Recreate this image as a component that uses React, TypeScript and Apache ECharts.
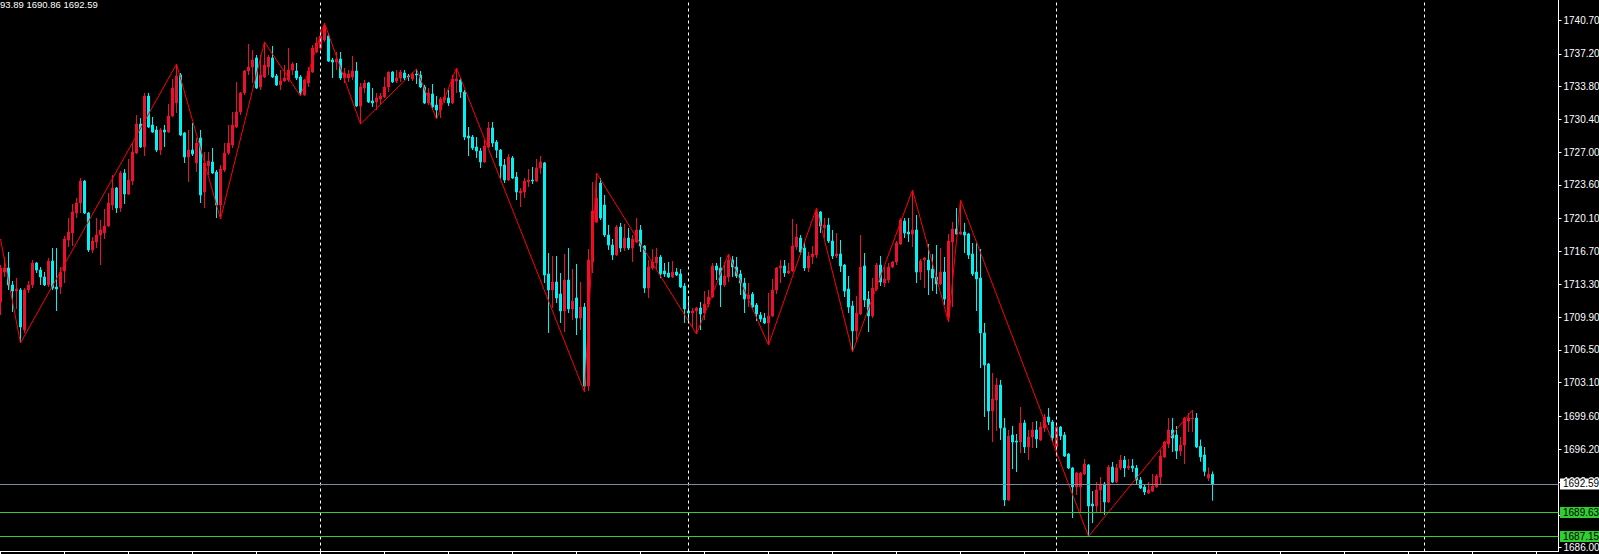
import React, { useEffect, useRef } from "react";
import * as echarts from "echarts";

// [open, close, low, high] per M15 bar
const candles: number[][] = [
  [1711.46, 1714.99, 1710.11, 1715.30], [1714.57, 1714.99, 1714.06, 1716.13], [1714.99, 1713.23, 1712.71, 1716.65], [1713.23, 1712.60, 1710.43, 1713.64],
  [1712.60, 1712.81, 1710.74, 1713.95], [1712.71, 1708.87, 1707.21, 1712.91], [1708.56, 1712.71, 1708.25, 1712.91], [1712.71, 1713.23, 1712.40, 1713.64],
  [1713.23, 1715.51, 1712.91, 1715.82], [1715.51, 1714.78, 1714.47, 1715.61], [1714.78, 1714.06, 1713.23, 1715.09], [1714.06, 1713.23, 1713.12, 1714.57],
  [1713.23, 1715.71, 1713.02, 1716.03], [1715.71, 1712.91, 1712.71, 1717.06], [1713.02, 1712.81, 1710.53, 1717.06], [1713.02, 1714.57, 1712.29, 1715.09],
  [1714.68, 1718.00, 1713.43, 1718.31], [1717.89, 1718.72, 1717.17, 1720.17], [1718.62, 1720.80, 1717.27, 1721.63], [1720.69, 1721.73, 1720.17, 1722.25],
  [1721.73, 1724.01, 1720.69, 1724.32], [1724.01, 1720.69, 1720.59, 1724.11], [1720.69, 1716.86, 1716.65, 1720.80], [1716.86, 1717.79, 1716.54, 1718.20],
  [1717.68, 1718.41, 1717.06, 1720.17], [1718.41, 1718.93, 1715.30, 1719.97], [1718.62, 1719.34, 1718.00, 1721.11], [1719.34, 1721.73, 1719.24, 1722.77],
  [1721.52, 1723.28, 1721.00, 1724.63], [1723.28, 1721.21, 1720.69, 1723.39], [1721.21, 1724.84, 1720.80, 1725.05], [1724.84, 1722.66, 1721.63, 1725.25],
  [1722.66, 1724.11, 1722.56, 1726.29], [1724.01, 1727.02, 1723.60, 1727.95], [1726.91, 1729.92, 1726.81, 1730.85], [1729.92, 1727.54, 1727.43, 1730.54],
  [1727.54, 1732.82, 1726.60, 1733.14], [1732.82, 1729.61, 1729.51, 1733.14], [1729.82, 1729.09, 1728.99, 1730.65], [1729.30, 1727.22, 1727.02, 1729.71],
  [1727.22, 1729.30, 1726.71, 1729.51], [1729.30, 1729.09, 1727.54, 1729.82], [1729.09, 1730.75, 1728.99, 1731.99], [1730.75, 1733.65, 1730.65, 1734.59],
  [1732.10, 1734.90, 1731.06, 1736.14], [1735.00, 1728.78, 1728.68, 1735.21], [1728.99, 1726.50, 1725.88, 1729.09], [1726.50, 1727.22, 1723.91, 1729.30],
  [1727.22, 1726.81, 1726.60, 1730.03], [1725.88, 1727.95, 1724.94, 1728.47], [1728.47, 1722.56, 1721.73, 1729.30], [1722.87, 1725.88, 1721.21, 1727.02],
  [1725.57, 1726.08, 1724.63, 1727.02], [1725.98, 1724.84, 1724.74, 1727.43], [1724.94, 1721.52, 1720.17, 1725.15], [1721.52, 1725.25, 1720.07, 1725.67],
  [1725.15, 1726.91, 1724.94, 1727.95], [1726.91, 1727.95, 1726.71, 1729.82], [1727.74, 1729.82, 1727.43, 1731.17], [1729.61, 1731.17, 1729.51, 1734.28],
  [1731.17, 1733.14, 1730.85, 1733.24], [1733.14, 1735.42, 1732.93, 1735.52], [1735.42, 1735.83, 1735.00, 1738.22], [1735.83, 1736.56, 1734.17, 1737.59],
  [1736.77, 1733.65, 1733.55, 1737.08], [1733.76, 1735.00, 1733.45, 1737.08], [1734.80, 1736.04, 1734.69, 1738.43], [1735.83, 1736.87, 1735.00, 1737.08],
  [1736.77, 1734.80, 1734.69, 1738.01], [1734.90, 1733.97, 1733.86, 1735.11], [1733.97, 1734.38, 1733.45, 1735.52], [1734.38, 1734.69, 1734.28, 1736.04],
  [1734.48, 1735.52, 1734.28, 1737.80], [1735.52, 1736.14, 1735.00, 1736.35], [1735.42, 1734.69, 1734.48, 1736.25], [1734.80, 1733.14, 1732.82, 1735.00],
  [1732.93, 1734.48, 1732.85, 1734.59], [1734.17, 1735.42, 1733.76, 1735.83], [1735.31, 1737.80, 1735.21, 1738.11], [1737.39, 1738.32, 1737.28, 1738.94],
  [1737.80, 1739.05, 1737.59, 1739.67], [1738.63, 1740.08, 1738.43, 1740.39], [1739.05, 1736.45, 1736.35, 1739.36], [1736.56, 1736.35, 1734.69, 1736.77],
  [1736.35, 1736.66, 1735.52, 1737.39], [1736.66, 1734.69, 1734.48, 1737.39], [1734.69, 1735.21, 1734.17, 1735.73], [1734.69, 1735.11, 1734.28, 1735.52],
  [1734.80, 1735.42, 1734.48, 1736.97], [1735.42, 1731.79, 1731.69, 1736.35], [1731.79, 1733.76, 1729.92, 1734.17], [1733.65, 1734.17, 1733.14, 1734.48],
  [1734.17, 1732.20, 1732.10, 1734.28], [1732.31, 1732.10, 1731.69, 1733.65], [1732.20, 1732.62, 1731.37, 1733.14], [1732.51, 1732.82, 1731.89, 1733.14],
  [1732.72, 1733.76, 1732.62, 1734.80], [1733.76, 1735.31, 1733.24, 1735.35], [1735.31, 1734.28, 1734.17, 1735.40], [1734.38, 1734.69, 1734.17, 1735.52],
  [1734.69, 1735.31, 1734.28, 1735.52], [1735.21, 1734.69, 1734.48, 1735.52], [1734.90, 1734.80, 1734.38, 1735.11], [1734.59, 1735.11, 1734.38, 1735.31],
  [1735.11, 1735.00, 1734.07, 1735.62], [1735.00, 1733.76, 1733.65, 1735.42], [1733.76, 1732.10, 1731.99, 1733.97], [1732.10, 1733.14, 1731.89, 1733.65],
  [1733.03, 1731.69, 1731.37, 1734.07], [1731.89, 1731.37, 1730.44, 1732.82], [1731.37, 1732.51, 1730.54, 1732.72], [1732.41, 1732.72, 1732.10, 1733.65],
  [1732.62, 1732.10, 1731.79, 1733.45], [1732.10, 1734.59, 1731.99, 1735.00], [1734.38, 1734.59, 1733.14, 1735.73], [1734.48, 1733.24, 1732.62, 1734.69],
  [1733.24, 1728.57, 1728.26, 1733.45], [1728.68, 1728.47, 1726.60, 1729.61], [1728.57, 1727.43, 1727.22, 1728.78], [1727.54, 1727.12, 1726.40, 1728.57],
  [1727.12, 1725.98, 1725.36, 1727.43], [1725.98, 1727.64, 1725.88, 1728.26], [1727.54, 1729.51, 1727.43, 1730.13], [1729.51, 1727.95, 1727.54, 1730.13],
  [1728.05, 1727.22, 1726.40, 1728.26], [1727.22, 1725.57, 1724.22, 1727.33], [1725.67, 1724.11, 1723.80, 1726.29], [1724.11, 1726.50, 1724.01, 1726.81],
  [1726.40, 1724.32, 1724.22, 1726.60], [1724.42, 1722.87, 1722.04, 1724.94], [1722.77, 1722.97, 1721.31, 1723.28], [1722.87, 1724.01, 1722.25, 1724.32],
  [1723.91, 1724.11, 1723.39, 1725.25], [1724.11, 1724.01, 1723.70, 1725.46], [1724.01, 1725.36, 1723.91, 1726.29], [1725.36, 1725.98, 1724.74, 1726.60],
  [1725.88, 1714.26, 1713.43, 1725.98], [1714.37, 1712.71, 1708.25, 1716.54], [1712.71, 1713.54, 1710.84, 1716.23], [1713.54, 1711.88, 1711.36, 1716.23],
  [1712.29, 1710.53, 1709.29, 1714.47], [1710.53, 1713.74, 1708.35, 1716.44], [1713.74, 1710.74, 1710.32, 1717.06], [1710.74, 1711.57, 1709.60, 1714.88],
  [1711.88, 1709.80, 1708.04, 1715.40], [1709.80, 1710.94, 1708.56, 1713.54], [1710.94, 1702.75, 1702.13, 1711.36], [1702.75, 1715.82, 1702.23, 1716.96],
  [1715.61, 1720.90, 1714.47, 1723.91], [1719.76, 1722.25, 1719.66, 1724.84], [1723.80, 1720.17, 1719.97, 1724.32], [1721.52, 1718.41, 1718.20, 1722.56],
  [1718.41, 1717.37, 1716.86, 1719.45], [1717.37, 1716.34, 1715.82, 1718.00], [1716.34, 1719.24, 1716.23, 1719.45], [1719.24, 1717.06, 1716.65, 1719.66],
  [1717.06, 1718.10, 1716.75, 1719.55], [1718.10, 1717.06, 1716.86, 1719.14], [1717.06, 1718.00, 1715.61, 1718.41], [1717.68, 1718.93, 1717.58, 1720.17],
  [1718.93, 1717.27, 1716.65, 1719.45], [1717.27, 1712.91, 1712.40, 1717.37], [1712.91, 1715.09, 1711.88, 1715.82], [1714.99, 1715.61, 1714.78, 1716.96],
  [1715.51, 1716.13, 1714.88, 1717.06], [1716.13, 1714.37, 1713.95, 1716.34], [1714.68, 1714.37, 1714.06, 1715.51], [1714.47, 1714.06, 1713.95, 1715.61],
  [1714.06, 1714.57, 1713.95, 1715.71], [1714.57, 1714.26, 1714.16, 1714.99], [1714.37, 1713.02, 1712.91, 1714.88], [1713.12, 1710.74, 1709.29, 1713.43],
  [1710.53, 1710.32, 1709.29, 1712.08], [1710.32, 1710.53, 1708.77, 1710.84], [1710.53, 1710.84, 1708.14, 1710.94], [1710.84, 1710.22, 1708.56, 1711.46],
  [1710.32, 1711.25, 1709.60, 1712.60], [1711.25, 1711.98, 1710.94, 1712.71], [1711.98, 1715.20, 1711.88, 1715.51], [1715.20, 1714.78, 1713.74, 1715.51],
  [1714.99, 1713.23, 1710.94, 1716.13], [1713.23, 1714.16, 1713.02, 1715.61], [1714.06, 1715.82, 1713.54, 1716.44], [1715.82, 1715.09, 1714.06, 1716.23],
  [1715.09, 1714.16, 1713.95, 1716.13], [1714.37, 1713.43, 1712.19, 1714.78], [1713.43, 1711.77, 1710.32, 1713.95], [1711.77, 1712.19, 1710.94, 1713.43],
  [1712.29, 1710.94, 1710.84, 1712.50], [1711.15, 1710.22, 1709.49, 1711.36], [1710.11, 1709.70, 1709.39, 1710.43], [1709.80, 1709.29, 1709.18, 1710.32],
  [1709.29, 1710.01, 1707.00, 1712.40], [1710.01, 1712.71, 1709.91, 1713.85], [1712.71, 1714.99, 1712.29, 1715.09], [1714.99, 1715.20, 1713.43, 1715.82],
  [1715.20, 1714.47, 1714.06, 1715.82], [1714.47, 1714.68, 1714.37, 1715.51], [1714.68, 1717.27, 1714.57, 1720.07], [1717.17, 1718.20, 1716.86, 1719.55],
  [1718.10, 1716.65, 1716.34, 1718.41], [1717.06, 1714.99, 1714.68, 1717.68], [1714.99, 1716.23, 1714.57, 1716.65], [1716.13, 1716.44, 1715.40, 1717.27],
  [1716.34, 1720.80, 1716.03, 1721.21], [1720.80, 1719.34, 1718.62, 1720.90], [1719.14, 1719.45, 1718.10, 1720.17], [1719.45, 1717.79, 1717.58, 1720.17],
  [1717.79, 1716.23, 1715.92, 1718.93], [1716.23, 1716.44, 1716.03, 1718.62], [1716.44, 1715.20, 1714.57, 1717.89], [1715.30, 1712.60, 1711.98, 1715.40],
  [1712.81, 1710.94, 1710.32, 1714.16], [1711.05, 1708.46, 1706.28, 1711.57], [1708.46, 1710.32, 1707.31, 1712.08], [1710.22, 1715.09, 1710.11, 1718.41],
  [1715.20, 1711.67, 1710.94, 1716.54], [1711.77, 1710.01, 1708.35, 1712.60], [1710.01, 1712.91, 1709.80, 1713.95], [1712.81, 1715.30, 1712.60, 1715.51],
  [1715.30, 1713.54, 1713.12, 1716.23], [1713.43, 1713.85, 1713.02, 1715.09], [1713.74, 1715.09, 1713.43, 1715.51], [1715.09, 1715.61, 1714.99, 1715.71],
  [1715.61, 1717.58, 1715.30, 1717.79], [1717.48, 1719.97, 1717.37, 1720.17], [1719.86, 1718.62, 1718.10, 1720.17], [1718.72, 1718.51, 1717.68, 1720.17],
  [1718.51, 1718.93, 1717.17, 1723.08], [1718.93, 1714.57, 1713.43, 1720.48], [1714.57, 1715.71, 1713.74, 1715.92], [1715.82, 1716.03, 1712.91, 1716.13],
  [1715.82, 1714.78, 1712.19, 1717.48], [1714.88, 1713.95, 1712.60, 1716.44], [1714.06, 1713.33, 1712.29, 1717.37], [1713.33, 1714.57, 1713.23, 1717.06],
  [1714.57, 1711.77, 1711.15, 1716.13], [1709.91, 1717.79, 1709.39, 1718.51], [1717.68, 1719.03, 1710.94, 1719.76], [1719.03, 1718.51, 1718.41, 1721.21],
  [1718.51, 1718.72, 1718.41, 1722.04], [1718.72, 1718.41, 1716.54, 1719.66], [1718.51, 1716.34, 1715.92, 1718.62], [1716.44, 1714.37, 1714.16, 1717.58],
  [1714.57, 1713.85, 1710.53, 1717.58], [1713.95, 1708.25, 1704.62, 1716.96], [1708.25, 1704.93, 1699.54, 1709.29], [1705.03, 1700.16, 1698.19, 1705.14],
  [1700.16, 1701.40, 1696.94, 1704.10], [1701.30, 1702.86, 1698.09, 1703.58], [1702.86, 1698.40, 1697.15, 1703.38], [1698.40, 1690.93, 1690.31, 1699.43],
  [1690.93, 1697.57, 1690.83, 1698.19], [1697.67, 1696.94, 1694.14, 1698.60], [1697.05, 1696.94, 1693.83, 1697.77], [1696.94, 1698.91, 1695.80, 1700.57],
  [1698.91, 1696.43, 1695.80, 1699.23], [1696.43, 1697.46, 1695.08, 1698.19], [1697.46, 1698.19, 1696.32, 1699.02], [1698.19, 1697.26, 1696.32, 1699.12],
  [1697.15, 1698.50, 1697.05, 1699.02], [1698.40, 1699.54, 1697.98, 1699.85], [1699.54, 1699.02, 1698.71, 1700.47], [1699.02, 1697.36, 1696.94, 1699.23],
  [1696.43, 1698.50, 1695.39, 1698.71], [1698.50, 1697.57, 1697.15, 1698.60], [1697.67, 1695.49, 1695.39, 1697.98], [1695.70, 1694.25, 1694.14, 1695.80],
  [1694.25, 1692.28, 1689.06, 1694.35], [1692.28, 1693.73, 1691.45, 1693.83], [1692.28, 1693.73, 1689.69, 1693.83], [1693.63, 1694.66, 1693.52, 1695.18],
  [1694.56, 1690.31, 1687.15, 1694.66], [1690.51, 1690.31, 1688.54, 1691.86], [1690.31, 1691.97, 1689.69, 1692.80], [1691.97, 1692.59, 1689.69, 1693.31],
  [1692.59, 1690.72, 1689.38, 1692.80], [1690.72, 1694.35, 1690.62, 1694.56], [1694.35, 1692.80, 1692.69, 1694.87], [1692.80, 1694.25, 1692.70, 1694.66],
  [1694.25, 1695.08, 1694.04, 1695.60], [1695.08, 1694.25, 1693.31, 1695.49], [1694.25, 1694.46, 1694.04, 1695.18], [1694.46, 1694.25, 1693.83, 1695.18],
  [1694.25, 1693.00, 1692.49, 1694.56], [1693.00, 1692.18, 1692.07, 1693.31], [1692.28, 1691.76, 1691.45, 1692.49], [1691.66, 1691.97, 1691.55, 1692.80],
  [1691.86, 1692.38, 1691.76, 1693.63], [1692.28, 1693.42, 1692.18, 1693.63], [1693.31, 1695.49, 1692.49, 1696.12], [1695.39, 1696.94, 1695.29, 1697.05],
  [1696.74, 1698.19, 1696.32, 1699.43], [1698.19, 1697.36, 1695.91, 1699.43], [1697.67, 1696.01, 1695.18, 1698.60], [1696.01, 1696.63, 1695.49, 1697.46],
  [1696.63, 1699.43, 1694.66, 1699.54], [1699.12, 1699.43, 1697.98, 1699.95], [1699.33, 1699.43, 1697.98, 1700.26], [1699.43, 1696.43, 1696.32, 1699.95],
  [1696.50, 1695.40, 1694.90, 1697.20], [1695.60, 1693.90, 1693.40, 1696.43], [1693.20, 1693.60, 1692.90, 1694.30], [1693.60, 1692.59, 1690.86, 1693.89],
];

// ZigZag pivots (bar index, price)
const zigzagIndex = [0, 5, 44, 55, 66, 75, 81, 90, 104, 109, 114, 146, 149, 174, 182, 192, 204, 213, 228, 237, 240, 272, 298];
const zigzagPrice = [1718.0, 1707.21, 1736.14, 1720.07, 1738.43, 1732.82, 1740.39, 1729.92, 1735.62, 1730.44, 1735.73, 1702.13, 1724.84,
  1708.14, 1716.44, 1707.0, 1721.21, 1706.28, 1723.08, 1709.39, 1722.04, 1687.15, 1700.26];

const priceTicks = [1740.7, 1737.2, 1733.8, 1730.4, 1727.0, 1723.6, 1720.1, 1716.7, 1713.3, 1709.9, 1706.5, 1703.1, 1699.6, 1696.2, 1692.8, 1689.4, 1686.0];
const daySeparators = [80, 172, 264, 356];
const bidPrice = 1692.59;
const levelPrices = [1689.63, 1687.15];
const headerText = "93.89 1690.86 1692.59";
const totalSlots = 390;
const yMin = 1685.59;
const yMax = 1742.78;

const UP = "#ec1030";
const DOWN = "#00f2f2";

export default function App() {
  const ref = useRef<HTMLDivElement>(null);
  useEffect(() => {
    document.body.style.margin = "0";
    document.body.style.background = "#000";
    const chart = echarts.init(ref.current!, null, { renderer: "svg" });
    const categories = Array.from({ length: totalSlots }, (_, i) => String(i));
    const zig: (number | null)[] = candles.map(() => null);
    zigzagIndex.forEach((idx, k) => { zig[idx] = zigzagPrice[k]; });
    const font = "Liberation Sans";
    const lineLabel = (bg: string) => ({
      show: true, position: "end", distance: 1.5, color: "#000", backgroundColor: bg,
      padding: [1, 3, 0, 3], fontSize: 10, fontFamily: font,
    });
    chart.setOption({
      animation: false,
      backgroundColor: "#000000",
      grid: { left: -1.5, right: 40.5, top: 0, bottom: 2.5, containLabel: false, outerBoundsMode: "none" },
      xAxis: {
        type: "category", data: categories, boundaryGap: true,
        axisLine: { onZero: false, lineStyle: { color: "#ffffff", width: 1 } },
        axisTick: { show: true, alignWithLabel: true, interval: (i: number) => i % 16 === 0, length: 3, lineStyle: { color: "#ffffff" } },
        axisLabel: { show: false }, splitLine: { show: false },
      },
      yAxis: {
        type: "value", position: "right", min: yMin, max: yMax, scale: true,
        axisLine: { show: true, lineStyle: { color: "#ffffff" } },
        axisTick: { show: true, length: 3, customValues: priceTicks, lineStyle: { color: "#ffffff" } },
        axisLabel: { customValues: priceTicks, formatter: (v: number) => v.toFixed(2), color: "#ffffff", fontSize: 10, fontFamily: font, margin: 5 },
        splitLine: { show: false },
      },
      series: [
        {
          type: "line", data: [], z: 1, silent: true, clip: false,
          markLine: {
            silent: true, symbol: ["none", "none"], animation: false,
            data: [
              ...daySeparators.map((i) => ({ xAxis: i, lineStyle: { color: "#ffffff", type: [3, 3], width: 1 }, label: { show: false } })),
              { yAxis: bidPrice, lineStyle: { color: "#7f8b9c", type: "solid", width: 1 }, label: { ...lineLabel("#ffffff"), formatter: bidPrice.toFixed(2) } },
              ...levelPrices.map((p) => ({ yAxis: p, lineStyle: { color: "#32cd32", type: "solid", width: 1 }, label: { ...lineLabel("#32cd32"), formatter: p.toFixed(2) } })),
            ],
          },
        },
        {
          type: "candlestick", data: candles, barWidth: 2, z: 2,
          itemStyle: { color: UP, color0: DOWN, borderColor: UP, borderColor0: DOWN, borderWidth: 1 },
        },
        {
          type: "line", data: zig, connectNulls: true, symbol: "none", z: 3,
          lineStyle: { color: "#ff0000", width: 1 },
        },
      ],
      graphic: [
        { type: "text", x: 0, y: -1, style: { text: headerText, fill: "#ffffff", font: `9.5px "${font}"` } },
      ],
    });
    return () => chart.dispose();
  }, []);
  return <div ref={ref} style={{ position: "absolute", left: 0, top: 0, width: 1599, height: 554, background: "#000" }} />;
}
